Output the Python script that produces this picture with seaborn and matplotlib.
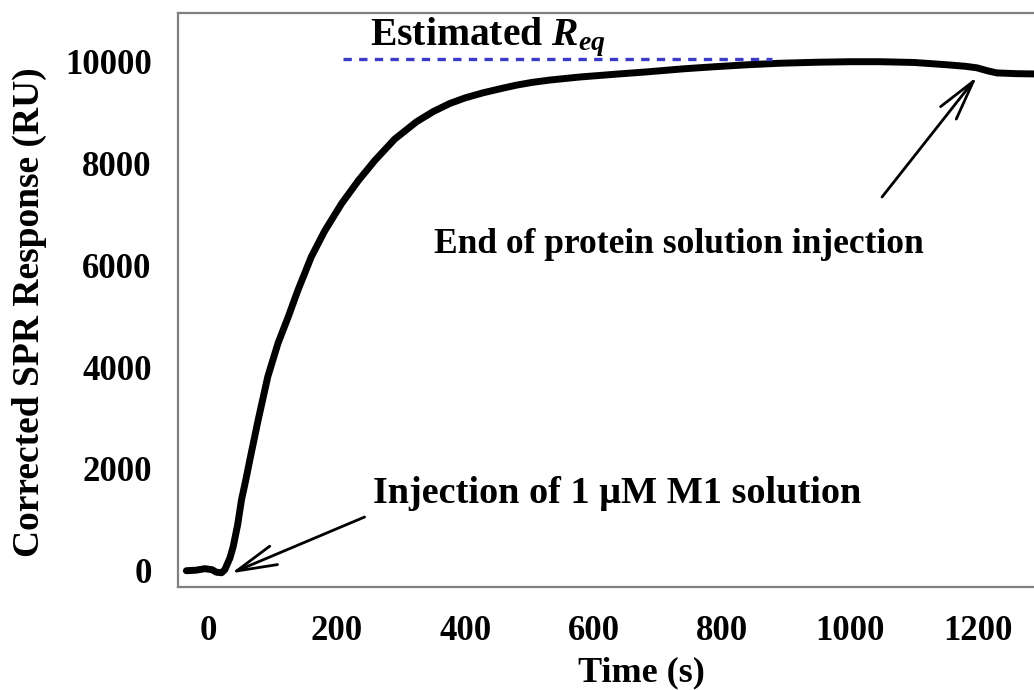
import matplotlib
matplotlib.use("Agg")
import matplotlib.pyplot as plt
import seaborn as sns
import pandas as pd

# ---- data ----
time_s = [-35, -20, -6, 5, 12, 20, 25, 33, 38, 45, 51, 58, 64, 77, 92, 108, 124,
          139, 160, 181, 207, 233, 259, 290, 324, 350, 376, 400, 428, 455, 480,
          505, 532, 579, 640, 683, 740, 787, 840, 891, 950, 1000, 1047, 1100,
          1151, 1180, 1198, 1215, 1229, 1260, 1287]
response_ru = [0, 10, 40, 20, -30, -40, 20, 250, 470, 900, 1390, 1800, 2175, 2960,
               3810, 4470, 4990, 5510, 6170, 6680, 7210, 7660, 8060, 8480, 8820,
               9020, 9180, 9290, 9390, 9470, 9540, 9595, 9640, 9700, 9760, 9800,
               9860, 9900, 9940, 9970, 9990, 10000, 10000, 9985, 9940, 9910, 9880,
               9820, 9780, 9765, 9760]
req_x = [209, 878]
req_level = 10053

x_ticks = [0, 200, 400, 600, 800, 1000, 1200]
y_ticks = [0, 2000, 4000, 6000, 8000, 10000]

inj_tip = (35, -50)
inj_tail = (243, 1055)
end_tip = (1198, 9705)
end_tail = (1050, 7342)

df = pd.DataFrame({"Time (s)": time_s, "Response": response_ru})
df_req = pd.DataFrame({"x": req_x, "y": [req_level] * len(req_x)})

sns.set_theme(style="white")
plt.rcParams["font.family"] = ["Liberation Serif", "DejaVu Serif"]
plt.rcParams["font.weight"] = "bold"
plt.rcParams["axes.labelweight"] = "bold"
plt.rcParams["mathtext.fontset"] = "custom"
plt.rcParams["mathtext.rm"] = "Liberation Serif:bold"
plt.rcParams["mathtext.it"] = "Liberation Serif:bold:italic"
plt.rcParams["mathtext.bf"] = "Liberation Serif:bold"

fig = plt.figure(figsize=(10.34, 6.9), dpi=100)
ax = fig.add_axes([178 / 1034, 1 - 587 / 690, (1034 - 178) / 1034, (587 - 13) / 690])

sns.lineplot(data=df, x="Time (s)", y="Response", ax=ax, color="black",
             linewidth=5, solid_capstyle="round", solid_joinstyle="round")
sns.lineplot(data=df_req, x="x", y="y", ax=ax, color="#3b3bc8",
             linewidth=2.4, linestyle=(0, (2.5, 2.2)))

ax.set_xlim(-48, 1287)
ax.set_ylim(-320, 10957)
ax.set_xticks(x_ticks)
ax.set_yticks(y_ticks)

fs = 25
ax.tick_params(axis="both", which="both", labelsize=fs, colors="#808080",
               labelcolor="black", width=1.5, direction="out")
ax.tick_params(axis="x", length=6, pad=14)
ax.tick_params(axis="y", length=8, pad=11)
for lab in ax.get_xticklabels() + ax.get_yticklabels():
    lab.set_fontweight("bold")

for side in ["left", "top", "bottom"]:
    ax.spines[side].set_color("#808080")
    ax.spines[side].set_linewidth(1.6)
ax.spines["right"].set_visible(False)

ax.set_xlabel("Time (s)", fontsize=26, fontweight="bold", color="black")
ax.set_ylabel("Corrected SPR Response (RU)", fontsize=27, fontweight="bold",
              color="black")
ax.xaxis.set_label_coords(0.541, -0.12)
ax.yaxis.set_label_coords(-0.153, 0.479)

ax.text(251, 10328, r"Estimated $R_{eq}$", fontsize=28.5, fontweight="bold",
        va="baseline", ha="left", color="black")
ax.text(256, 1330, "Injection of 1 \u03bcM M1 solution", fontsize=27.5,
        fontweight="bold", va="baseline", ha="left", color="black")
ax.text(352, 6242, "End of protein solution injection", fontsize=25.5,
        fontweight="bold", va="baseline", ha="left", color="black")

arrow_style = "->,head_length=1.45,head_width=0.36"
for tip, tail in [(inj_tip, inj_tail), (end_tip, end_tail)]:
    ax.annotate("", xy=tip, xytext=tail,
                arrowprops=dict(arrowstyle=arrow_style, lw=2.0, color="black",
                                shrinkA=0, shrinkB=0, mutation_scale=20))

fig.savefig("out.png", dpi=100)
